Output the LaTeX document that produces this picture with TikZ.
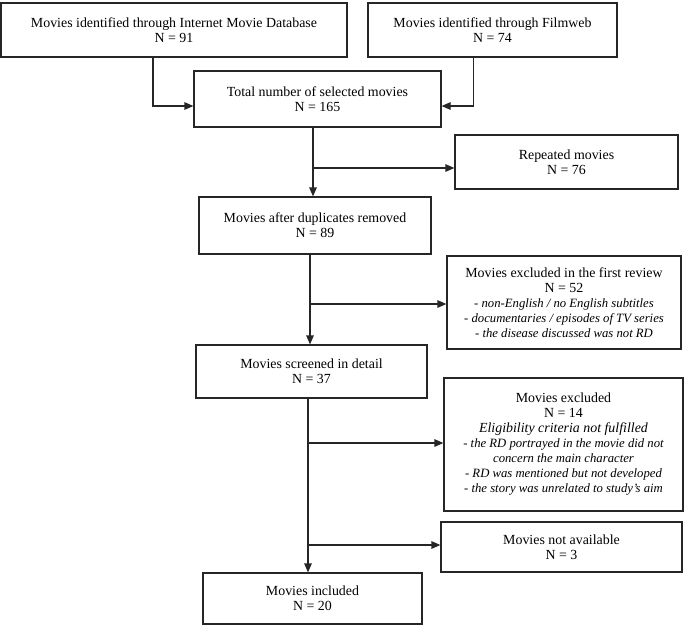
\documentclass[tikz,border=0pt]{standalone}
\usepackage{fontspec}
\setmainfont{Liberation Serif}
\usetikzlibrary{arrows.meta, calc}
\newcommand{\mainsize}{\fontsize{13.9}{15}\selectfont}
\newcommand{\critsize}{\fontsize{12.7}{14.5}\selectfont\itshape}
\tikzset{
    flowchart/.style={
        x=1pt, y=-1pt,
        font=\mainsize,
        >={Triangle[length=9pt, width=7.5pt]},
        box/.style={draw=black!85, line width=1.2pt, rectangle, align=center, inner sep=0pt},
        arrow/.style={draw=black!85, line width=1.2pt, ->}
    }
}
\begin{document}
\begin{tikzpicture}[flowchart]
        \useasboundingbox (0,0) rectangle (685,625);

        % Sources
        \node[box, minimum width=346pt, minimum height=54pt] (imdb) at (174,30) {Movies identified through Internet Movie Database\\N = 91};
        \node[box, minimum width=249pt, minimum height=54pt] (filmweb) at (492.5,30) {Movies identified through Filmweb\\N = 74};
        \node[box, minimum width=247pt, minimum height=56pt] (total) at (317.5,99) {Total number of selected movies\\N = 165};

        % Main column
        \node[box, minimum width=232pt, minimum height=57pt] (after) at (315,225.5) {Movies after duplicates removed\\N = 89};
        \node[box, minimum width=231pt, minimum height=53pt] (screened) at (311.5,371.5) {Movies screened in detail\\N = 37};
        \node[box, minimum width=219pt, minimum height=51pt] (included) at (312.5,598.5) {Movies included\\N = 20};

        % Exclusions
        \node[box, minimum width=223pt, minimum height=54pt] (repeated) at (566.5,162) {Repeated movies\\N = 76};
        \node[box, minimum width=234pt, minimum height=93pt] (review) at (564,302.5) {Movies excluded in the first review\\N = 52\\
            {\critsize - non-English / no English subtitles}\\
            {\critsize - documentaries / episodes of TV series}\\
            {\critsize - the disease discussed was not RD}};
        \node[box, minimum width=239pt, minimum height=133pt] (excluded) at (563.5,444.5) {Movies excluded\\N = 14\\
            \textit{Eligibility criteria not fulfilled}\\
            {\critsize - the RD portrayed in the movie did not}\\
            {\critsize concern the main character}\\
            {\critsize - RD was mentioned but not developed}\\
            {\critsize - the story was unrelated to study’s aim}};
        \node[box, minimum width=241pt, minimum height=50pt] (unavail) at (561.5,547) {Movies not available\\N = 3};

        % Junctions on the main line
        \coordinate (j1) at (313,168);
        \coordinate (j2) at (310,304);
        \coordinate (j3) at (308,443);
        \coordinate (j4) at (308,545);

        % Arrows
        \draw[arrow] ([xshift=-21pt]imdb.south) |- ([yshift=-7pt]total.west);
        \draw[arrow] ([xshift=-19pt]filmweb.south) |- ([yshift=-7pt]total.east);
        \draw[arrow] (total.south -| j1) -- (after.north -| j1);
        \draw[arrow] (after.south -| j2) -- (screened.north -| j2);
        \draw[arrow] (screened.south -| j3) -- (included.north -| j3);

        \draw[arrow] (j1) -- (j1 -| repeated.west);
        \draw[arrow] (j2) -- (j2 -| review.west);
        \draw[arrow] (j3) -- (j3 -| excluded.west);
        \draw[arrow] (j4) -- (j4 -| unavail.west);

    \end{tikzpicture}
\end{document}
